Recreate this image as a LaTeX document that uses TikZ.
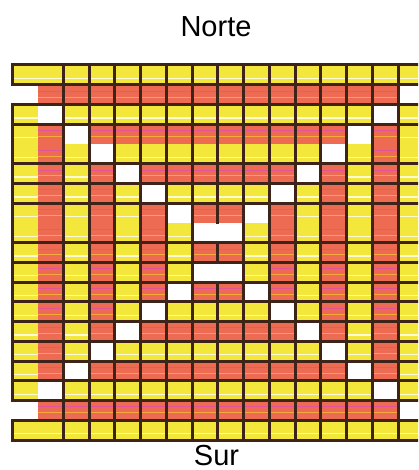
\documentclass[tikz,border=0pt]{standalone}
\usepackage{fontspec}
\setmainfont{Liberation Sans}
\definecolor{wYellow}{HTML}{F2E73A}
\definecolor{wRed}{HTML}{EC6B52}
\definecolor{wBrown}{HTML}{3E2319}
\definecolor{wPink}{HTML}{E2559A}
\definecolor{wOrange}{HTML}{F5A83C}
\newcommand{\cellw}{25.733}
\newcommand{\cellh}{19.737}

\begin{document}
\begin{tikzpicture}[x=1pt, y=-1pt,
  cell0/.style={fill=white},
  cell1/.style={fill=wYellow},
  cell2/.style={fill=wRed},
  rule/.style={draw=wBrown, line width=3pt, line cap=rect},
  lbl/.style={anchor=base, font=\fontsize{29}{32}\selectfont}]
  \useasboundingbox (0,0) rectangle (418,470);
  \node[lbl] (norte) at (216,37) {Norte};
  \node[lbl] (sur) at (216.5,465) {Sur};
  \begin{scope}
    \clip (0,0) rectangle (418,470);
    % cells: 0 white, 1 yellow, 2 red
    \foreach \c in {1,...,16} {
      \foreach \r in {1,...,19} {
        \pgfmathtruncatemacro\cm{min(\c,17-\c)}
        \pgfmathtruncatemacro\rr{min(\r,20-\r)}
        \pgfmathtruncatemacro\kind{\cm==\rr-1 ? 0 : (\cm<\rr-1 ? 2-mod(\cm,2) : 2-mod(\rr,2))}
        \pgfmathsetmacro\xa{12+(\c-1)*\cellw}
        \pgfmathsetmacro\ya{65+(\r-1)*\cellh}
        \fill[cell\kind] (\xa,\ya) rectangle ++(\cellw,\cellh);
        \ifnum\kind=1
          \draw[white!80!wYellow, line width=1.4pt] (\xa,\ya+0.68*\cellh) -- ++(\cellw,0);
        \fi
        \ifnum\kind=2
          \draw[wPink, line width=0.9pt] (\xa,\ya+0.32*\cellh) -- ++(\cellw,0);
          \draw[wOrange, line width=0.9pt] (\xa,\ya+0.62*\cellh) -- ++(\cellw,0);
        \fi
      }
    }
    % horizontal rules
    \foreach \k in {0,1,2,3,5,6,7,9,10,11,12,13,14,15,16,17,18,19}
      \draw[rule] (12,65+\k*\cellh) -- (430,65+\k*\cellh);
    % vertical rules
    \foreach \k in {2,3,4,5,6,7,9,10,11,12,13,14,15}
      \draw[rule] (12+\k*\cellw,65) -- (12+\k*\cellw,440);
    \draw[rule] (12+8*\cellw,65) -- (12+8*\cellw,65+8*\cellh)
      (12+8*\cellw,65+9*\cellh) -- (12+8*\cellw,65+10*\cellh)
      (12+8*\cellw,65+11*\cellh) -- (12+8*\cellw,440);
    \draw[rule] (12,65) -- (12,65+\cellh)
      (12,65+2*\cellh) -- (12,65+17*\cellh)
      (12,65+18*\cellh) -- (12,440);
  \end{scope}
\end{tikzpicture}
\end{document}
